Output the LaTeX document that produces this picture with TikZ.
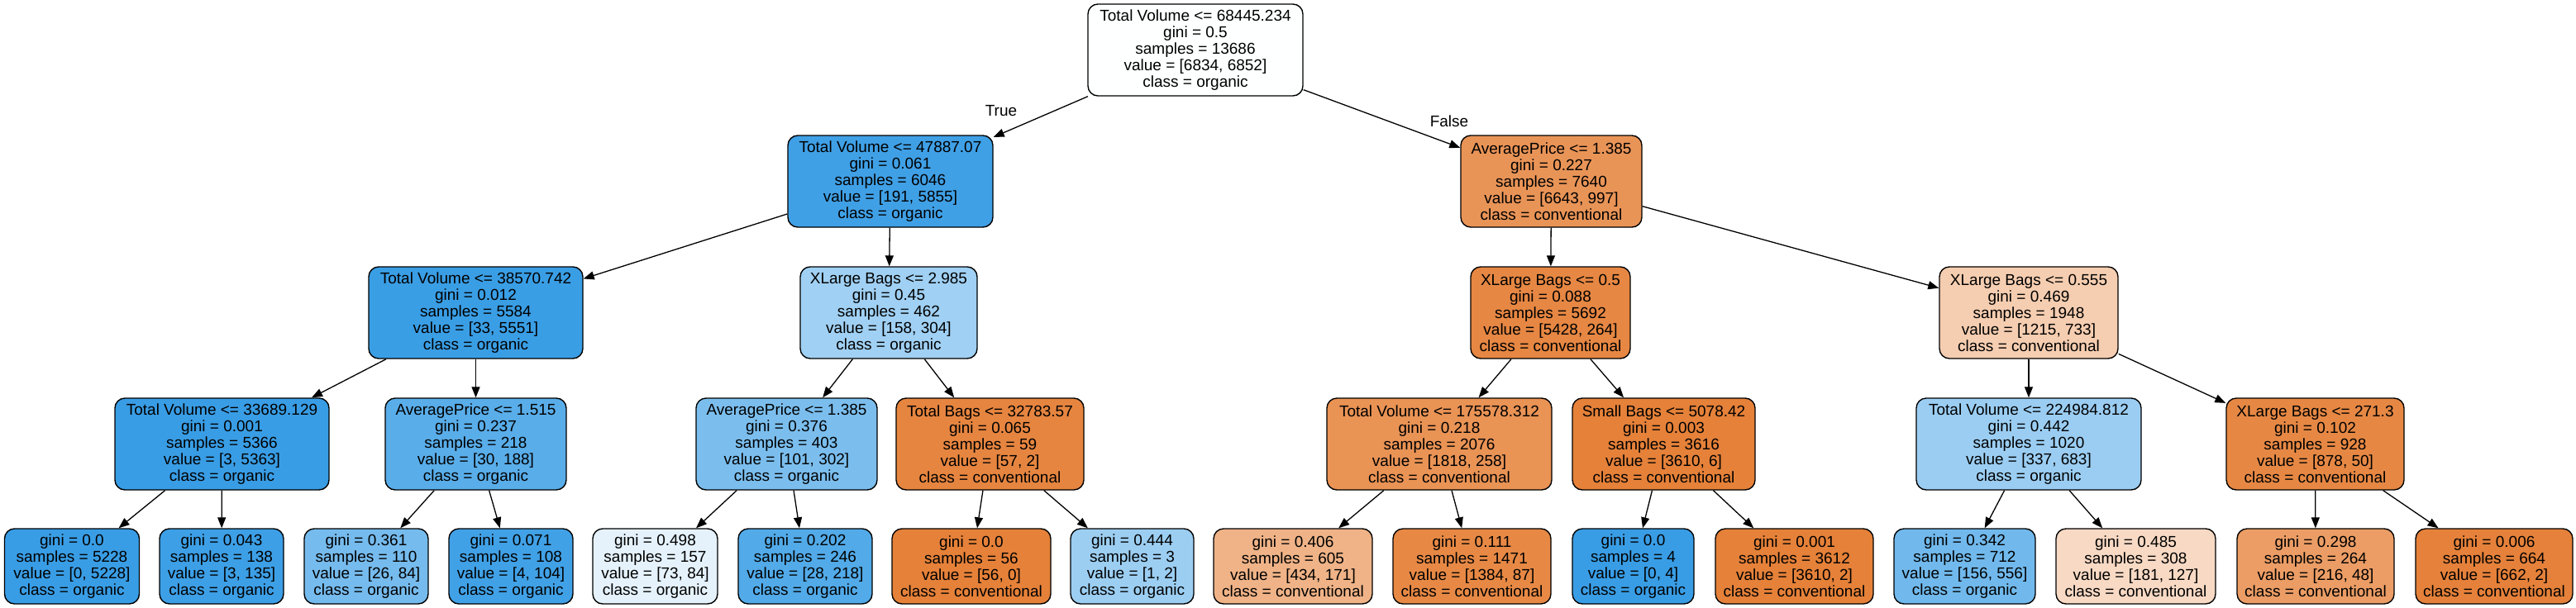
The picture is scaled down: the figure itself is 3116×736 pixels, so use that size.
\documentclass[tikz,border=0pt]{standalone}
\usepackage{fontspec}
\newfontfamily\nf{Liberation Sans}
\usetikzlibrary{arrows.meta}
\definecolor{conv}{RGB}{229,129,57}
\definecolor{org}{RGB}{57,157,229}
\begin{document}
\begin{tikzpicture}[x=1pt,y=-1pt,
  box/.style={draw=black, line width=1.4pt, rounded corners=12pt, minimum height=111pt,
    inner sep=0pt, align=center, font=\nf\fontsize{19}{20}\selectfont},
  leafbox/.style={box, minimum height=91pt},
  edge/.style={-{Triangle[length=13pt,width=10pt]}, line width=1.3pt},
  elabel/.style={font=\nf\fontsize{19}{20}\selectfont, inner sep=0pt}]
\useasboundingbox (0,0) rectangle (3116,736);
\fill[white] (0,0) rectangle (3116,736);
% level 0
\node[box, minimum width=260pt, fill=org!0.3] (root) at (1446,60.5) {Total Volume <= 68445.234\\gini = 0.5\\samples = 13686\\value = [6834, 6852]\\class = organic};
% level 1
\node[box, minimum width=248pt, fill=org!96.7] (A) at (1077,219.5) {Total Volume <= 47887.07\\gini = 0.061\\samples = 6046\\value = [191, 5855]\\class = organic};
\node[box, minimum width=219pt, fill=conv!85] (B) at (1876.5,219.5) {AveragePrice <= 1.385\\gini = 0.227\\samples = 7640\\value = [6643, 997]\\class = conventional};
% level 2
\node[box, minimum width=259pt, fill=org!99.4] (C) at (575.5,378.5) {Total Volume <= 38570.742\\gini = 0.012\\samples = 5584\\value = [33, 5551]\\class = organic};
\node[box, minimum width=214pt, fill=org!48] (D) at (1075,378.5) {XLarge Bags <= 2.985\\gini = 0.45\\samples = 462\\value = [158, 304]\\class = organic};
\node[box, minimum width=193pt, fill=conv!95.1] (E) at (1875.5,378.5) {XLarge Bags <= 0.5\\gini = 0.088\\samples = 5692\\value = [5428, 264]\\class = conventional};
\node[box, minimum width=216pt, fill=conv!39.7] (F) at (2454,378.5) {XLarge Bags <= 0.555\\gini = 0.469\\samples = 1948\\value = [1215, 733]\\class = conventional};
% level 3
\node[box, minimum width=259pt, fill=org!99.9] (G) at (268.5,537.5) {Total Volume <= 33689.129\\gini = 0.001\\samples = 5366\\value = [3, 5363]\\class = organic};
\node[box, minimum width=219pt, fill=org!84] (H) at (575.5,537.5) {AveragePrice <= 1.515\\gini = 0.237\\samples = 218\\value = [30, 188]\\class = organic};
\node[box, minimum width=219pt, fill=org!66.6] (I) at (951.5,537.5) {AveragePrice <= 1.385\\gini = 0.376\\samples = 403\\value = [101, 302]\\class = organic};
\node[box, minimum width=227pt, fill=conv!96.5] (J) at (1197.5,537.5) {Total Bags <= 32783.57\\gini = 0.065\\samples = 59\\value = [57, 2]\\class = conventional};
\node[box, minimum width=272pt, fill=conv!85.8] (K) at (1741,537.5) {Total Volume <= 175578.312\\gini = 0.218\\samples = 2076\\value = [1818, 258]\\class = conventional};
\node[box, minimum width=221pt, fill=conv!99.8] (L) at (2012.5,537.5) {Small Bags <= 5078.42\\gini = 0.003\\samples = 3616\\value = [3610, 6]\\class = conventional};
\node[box, minimum width=272pt, fill=org!50.7] (M) at (2454,537.5) {Total Volume <= 224984.812\\gini = 0.442\\samples = 1020\\value = [337, 683]\\class = organic};
\node[box, minimum width=215pt, fill=conv!94.3] (N) at (2800.5,537.5) {XLarge Bags <= 271.3\\gini = 0.102\\samples = 928\\value = [878, 50]\\class = conventional};
% leaves
\node[leafbox, minimum width=163pt, fill=org] (l1) at (87,685.5) {gini = 0.0\\samples = 5228\\value = [0, 5228]\\class = organic};
\node[leafbox, minimum width=150pt, fill=org!97.8] (l2) at (268,685.5) {gini = 0.043\\samples = 138\\value = [3, 135]\\class = organic};
\node[leafbox, minimum width=150pt, fill=org!69] (l3) at (443,685.5) {gini = 0.361\\samples = 110\\value = [26, 84]\\class = organic};
\node[leafbox, minimum width=150pt, fill=org!96.2] (l4) at (618,685.5) {gini = 0.071\\samples = 108\\value = [4, 104]\\class = organic};
\node[leafbox, minimum width=151pt, fill=org!13.1] (l5) at (792.5,685.5) {gini = 0.498\\samples = 157\\value = [73, 84]\\class = organic};
\node[leafbox, minimum width=162pt, fill=org!87.2] (l6) at (974,685.5) {gini = 0.202\\samples = 246\\value = [28, 218]\\class = organic};
\node[leafbox, minimum width=192pt, fill=conv] (l7) at (1175,685.5) {gini = 0.0\\samples = 56\\value = [56, 0]\\class = conventional};
\node[leafbox, minimum width=149pt, fill=org!50] (l8) at (1369.5,685.5) {gini = 0.444\\samples = 3\\value = [1, 2]\\class = organic};
\node[leafbox, minimum width=192pt, fill=conv!60.6] (l9) at (1564,685.5) {gini = 0.406\\samples = 605\\value = [434, 171]\\class = conventional};
\node[leafbox, minimum width=191pt, fill=conv!93.7] (l10) at (1780.5,685.5) {gini = 0.111\\samples = 1471\\value = [1384, 87]\\class = conventional};
\node[leafbox, minimum width=147pt, fill=org] (l11) at (1975.5,685.5) {gini = 0.0\\samples = 4\\value = [0, 4]\\class = organic};
\node[leafbox, minimum width=191pt, fill=conv!99.9] (l12) at (2170.5,685.5) {gini = 0.001\\samples = 3612\\value = [3610, 2]\\class = conventional};
\node[leafbox, minimum width=171pt, fill=org!71.9] (l13) at (2376.5,685.5) {gini = 0.342\\samples = 712\\value = [156, 556]\\class = organic};
\node[leafbox, minimum width=193pt, fill=conv!29.8] (l14) at (2583.5,685.5) {gini = 0.485\\samples = 308\\value = [181, 127]\\class = conventional};
\node[leafbox, minimum width=190pt, fill=conv!77.8] (l15) at (2801,685.5) {gini = 0.298\\samples = 264\\value = [216, 48]\\class = conventional};
\node[leafbox, minimum width=190pt, fill=conv!99.7] (l16) at (3017,685.5) {gini = 0.006\\samples = 664\\value = [662, 2]\\class = conventional};
% edges
\draw[edge] (root) -- (A);
\draw[edge] (root) -- (B);
\node[elabel] (ltrue) at (1211,134.5) {True};
\node[elabel] (lfalse) at (1753,147) {False};
\draw[edge] (A) -- (C);
\draw[edge] (A) -- (D);
\draw[edge] (B) -- (E);
\draw[edge] (B) -- (F);
\draw[edge] (C) -- (G);
\draw[edge] (C) -- (H);
\draw[edge] (D) -- (I);
\draw[edge] (D) -- (J);
\draw[edge] (E) -- (K);
\draw[edge] (E) -- (L);
\draw[edge] (F) -- (M);
\draw[edge] (F) -- (N);
\draw[edge] (G) -- (l1);
\draw[edge] (G) -- (l2);
\draw[edge] (H) -- (l3);
\draw[edge] (H) -- (l4);
\draw[edge] (I) -- (l5);
\draw[edge] (I) -- (l6);
\draw[edge] (J) -- (l7);
\draw[edge] (J) -- (l8);
\draw[edge] (K) -- (l9);
\draw[edge] (K) -- (l10);
\draw[edge] (L) -- (l11);
\draw[edge] (L) -- (l12);
\draw[edge] (M) -- (l13);
\draw[edge] (M) -- (l14);
\draw[edge] (N) -- (l15);
\draw[edge] (N) -- (l16);
\end{tikzpicture}
\end{document}
